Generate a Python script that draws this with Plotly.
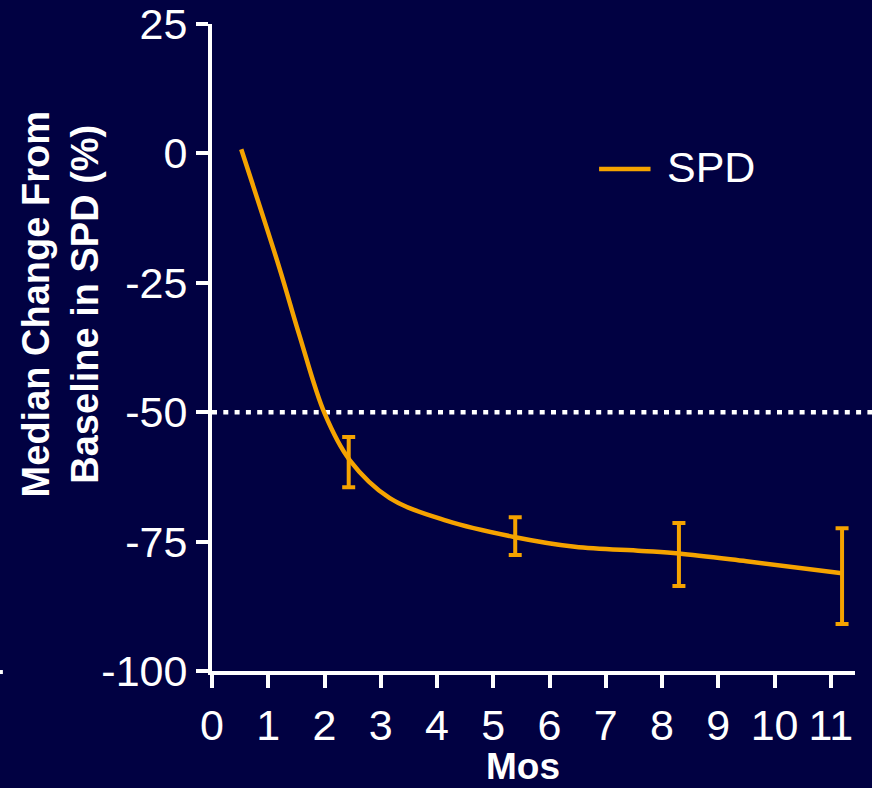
import plotly.graph_objects as go

# Smoothed median curve (months, % change from baseline)
curve_months = [0.52, 1.2, 1.55, 2.0, 2.45, 3.16, 4.18, 5.37, 6.45, 7.64, 8.3, 9.5, 11.2]
curve_change = [0.8, -22.2, -35.0, -50.2, -59.3, -66.6, -71.0, -74.1, -76.0, -76.8, -77.3, -78.8, -81.1]

# Assessment visits with error bars
visit_months = [2.43, 5.39, 8.3, 11.2]
visit_median = [-59.3, -73.8, -77.4, -81.2]
visit_upper = [-54.8, -70.3, -71.4, -72.4]
visit_lower = [-64.5, -77.6, -83.6, -90.9]

x_ticks = list(range(0, 12))
y_ticks = [-100, -75, -50, -25, 0, 25]
y_tick_text = ["-100", "-75", "-50", "-25", "0", "25"]
threshold = -50

BG = "#010142"
ORANGE = "#F5A300"
WHITE = "#FFFFFF"
FONT = "Liberation Sans, Arial, sans-serif"

fig = go.Figure()

fig.add_trace(go.Scatter(
    x=curve_months, y=curve_change, mode="lines", name="SPD", showlegend=False,
    line=dict(color=ORANGE, width=4.5, shape="spline", smoothing=1.0),
    hoverinfo="skip",
))

fig.add_trace(go.Scatter(
    x=visit_months, y=visit_median, mode="markers", showlegend=False,
    marker=dict(size=0.1, color=ORANGE, opacity=0),
    error_y=dict(
        type="data", symmetric=False,
        array=[u - m for u, m in zip(visit_upper, visit_median)],
        arrayminus=[m - l for l, m in zip(visit_lower, visit_median)],
        color=ORANGE, thickness=4, width=6.5,
    ),
))

# Dotted 50% reduction reference line
fig.add_shape(type="line", xref="paper", yref="y", x0=0, x1=1.03, y0=threshold, y1=threshold,
              line=dict(color=WHITE, width=4.5, dash="5px,6.3px"), layer="below")

# Short tick fragment at the far left edge
fig.add_shape(type="line", xref="paper", yref="paper", x0=-0.3299, x1=-0.3252, y0=-0.0016, y1=-0.0016,
              line=dict(color=WHITE, width=4))

# Series key
fig.add_shape(type="line", xref="paper", yref="paper", x0=0.602, x1=0.682, y0=0.776, y1=0.776,
              line=dict(color=ORANGE, width=4.5))
fig.add_annotation(
    text="SPD", xref="paper", yref="paper", x=0.705, y=0.779,
    showarrow=False, font=dict(family=FONT, size=43, color=WHITE),
    xanchor="left", yanchor="middle",
)

fig.add_annotation(
    text="<b>Median Change From<br>Baseline in SPD (%)</b>",
    xref="paper", yref="paper", x=-0.236, y=0.567, textangle=-90,
    showarrow=False, font=dict(family=FONT, size=38, color=WHITE),
    xanchor="center", yanchor="middle",
)
fig.add_annotation(
    text="<b>Mos</b>", xref="paper", yref="paper", x=0.484, y=-0.1476,
    showarrow=False, font=dict(family=FONT, size=37, color=WHITE),
    xanchor="center", yanchor="middle", borderpad=0,
)

fig.update_layout(
    width=872, height=788,
    margin=dict(l=212, r=17, t=24, b=117),
    paper_bgcolor=BG, plot_bgcolor=BG,
    font=dict(family=FONT, size=43, color=WHITE),
    showlegend=False,
    xaxis=dict(
        range=[0, 11.43], tickvals=x_ticks, ticktext=[str(t) for t in x_ticks],
        showgrid=False, zeroline=False, showline=True, linecolor=WHITE, linewidth=4,
        ticks="outside", ticklen=13, tickwidth=4, tickcolor=WHITE,
        tickfont=dict(size=43, color=WHITE), automargin=False,
    ),
    yaxis=dict(
        range=[-100, 25], tickvals=y_ticks, ticktext=y_tick_text,
        showgrid=False, zeroline=False, showline=True, linecolor=WHITE, linewidth=4,
        ticks="outside", ticklen=12, tickwidth=4, tickcolor=WHITE,
        tickfont=dict(size=43, color=WHITE), ticklabelstandoff=0, automargin=False,
    ),
)

fig.write_html("out.html")
